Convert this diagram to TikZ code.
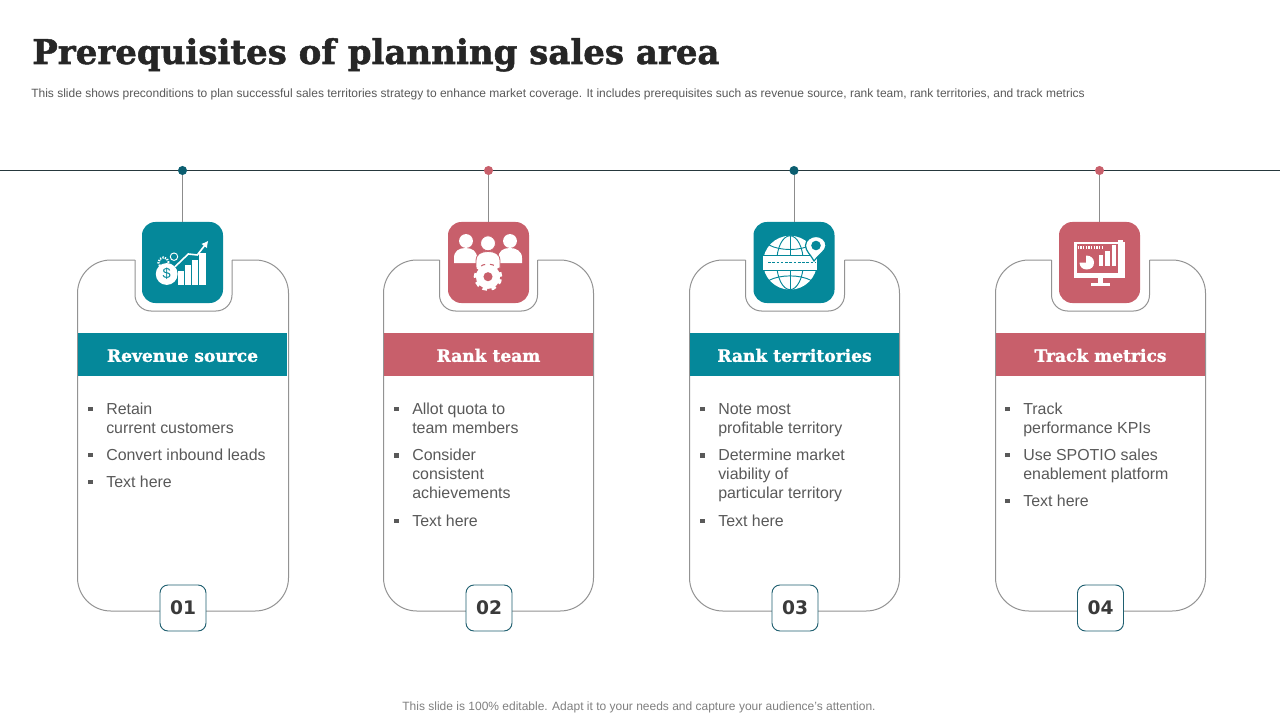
\documentclass[tikz,border=0pt]{standalone}
\usepackage{fontspec}
\usetikzlibrary{arrows.meta}
\setmainfont{Liberation Sans}
\newfontfamily\slabfont{DejaVu Serif}[BoldFont={DejaVu Serif Bold},BoldFeatures={FakeBold=1.5}]
\newfontfamily\numfont{DejaVu Sans}[BoldFont={DejaVu Sans Bold}]
\newcommand{\bul}{\raisebox{2.6pt}{\rule{3.2pt}{3.2pt}}}
\tikzset{
	cardline/.style={draw=gray!85,line width=0.75pt},
	iconbox/.style={minimum size=60.75pt,inner sep=0pt,rounded corners=10pt},
	bandbox/.style={minimum width=157pt,minimum height=32pt,inner sep=0pt,text height=11pt,text depth=0pt,text=white,font=\slabfont\bfseries\fontsize{12.8}{15}\selectfont},
	numbox/.style={draw=numedge,fill=white,line width=0.7pt,minimum size=34.5pt,inner sep=0pt,rounded corners=6pt,text=numtext,font=\numfont\bfseries\fontsize{14}{18}\selectfont},
	dotnode/.style={circle,minimum size=6.8pt,inner sep=0pt},
	dropline/.style={draw=gray!90,line width=0.75pt},
	bodytext/.style={anchor=north west,inner sep=0pt,text=bodygray,font=\fontsize{11.95}{14.25}\selectfont}
}
\begin{document}
\begin{tikzpicture}[x=0.75pt,y=-0.75pt]
	\definecolor{tealc}{HTML}{05889A}
	\definecolor{redc}{HTML}{C85F6B}
	\definecolor{darkteal}{HTML}{0B5E70}
	\definecolor{numedge}{HTML}{1F5F70}
	\definecolor{numtext}{HTML}{3A3A3A}
	\definecolor{bodygray}{HTML}{595959}
	\definecolor{ruleslate}{HTML}{26383D}
	\useasboundingbox (0,0) rectangle (1280,720);
	\fill[white] (0,0) rectangle (1280,720);

	\node[anchor=base west,inner sep=0pt,text=black!85,font=\slabfont\bfseries\fontsize{25.5}{30}\selectfont] (title) at (32,64) {Prerequisites of planning sales area};
	\node[anchor=base west,inner sep=0pt,text=bodygray,font=\fontsize{9}{11}\selectfont] (subtitle) at (31,98) {This slide shows preconditions to plan successful sales territories strategy to enhance market coverage. It includes prerequisites such as revenue source, rank team, rank territories, and track metrics};
	\node[anchor=base,inner sep=0pt,text=gray,font=\fontsize{9}{11}\selectfont] (footer) at (639,710) {This slide is 100\% editable. Adapt it to your needs and capture your audience's attention.};

	\coordinate (lineL) at (0,170.5);
	\coordinate (lineR) at (1280,170.5);
	\draw[ruleslate,line width=0.75pt] (lineL) -- (lineR);

	\draw[cardline,rounded corners=12pt] (135,260) -- (135,311) -- (232,311) -- (232,260);
	\draw[cardline,rounded corners=25pt] (232,260) -- (288.5,260) -- (288.5,611) -- (77.5,611) -- (77.5,260) -- (135,260);
	\draw[cardline,rounded corners=12pt] (439.5,260) -- (439.5,311) -- (537.5,311) -- (537.5,260);
	\draw[cardline,rounded corners=25pt] (537.5,260) -- (593.5,260) -- (593.5,611) -- (383.5,611) -- (383.5,260) -- (439.5,260);
	\draw[cardline,rounded corners=12pt] (745.5,260) -- (745.5,311) -- (844.5,311) -- (844.5,260);
	\draw[cardline,rounded corners=25pt] (844.5,260) -- (899.5,260) -- (899.5,611) -- (689.5,611) -- (689.5,260) -- (745.5,260);
	\draw[cardline,rounded corners=12pt] (1051.5,260) -- (1051.5,311) -- (1149.5,311) -- (1149.5,260);
	\draw[cardline,rounded corners=25pt] (1149.5,260) -- (1205.5,260) -- (1205.5,611) -- (995.5,611) -- (995.5,260) -- (1051.5,260);

	\node[iconbox,fill=tealc] (icon1) at (182.5,262.5) {};
	\node[iconbox,fill=redc] (icon2) at (488.5,262.5) {};
	\node[iconbox,fill=tealc] (icon3) at (794,262.5) {};
	\node[iconbox,fill=redc] (icon4) at (1099.5,262.5) {};

	\node[dotnode,fill=darkteal] (dot1) at (182.5,170.5) {};
	\node[dotnode,fill=redc] (dot2) at (488.5,170.5) {};
	\node[dotnode,fill=darkteal] (dot3) at (794,170.5) {};
	\node[dotnode,fill=redc] (dot4) at (1099.5,170.5) {};
	\draw[dropline] (dot1) -- (icon1);
	\draw[dropline] (dot2) -- (icon2);
	\draw[dropline] (dot3) -- (icon3);
	\draw[dropline] (dot4) -- (icon4);

	\node[bandbox,fill=tealc] (band1) at (182.5,354.5) {Revenue source};
	\node[bandbox,fill=redc] (band2) at (488.5,354.5) {Rank team};
	\node[bandbox,fill=tealc] (band3) at (794.5,354.5) {Rank territories};
	\node[bandbox,fill=redc] (band4) at (1100.5,354.5) {Track metrics};

	\node[bodytext] (text1) at (88,401) {\begin{tabular}{@{}p{13.5pt}@{}l@{}} \bul&Retain\\&current customers\\[6pt] \bul&Convert inbound leads\\[6pt] \bul&Text here \end{tabular}};
	\node[bodytext] (text2) at (394,401) {\begin{tabular}{@{}p{13.5pt}@{}l@{}} \bul&Allot quota to\\&team members\\[6.3pt] \bul&Consider\\&consistent\\&achievements\\[6.3pt] \bul&Text here \end{tabular}};
	\node[bodytext] (text3) at (700,401) {\begin{tabular}{@{}p{13.5pt}@{}l@{}} \bul&Note most\\&profitable territory\\[6.3pt] \bul&Determine market\\&viability of\\&particular territory\\[6.3pt] \bul&Text here \end{tabular}};
	\node[bodytext] (text4) at (1005,401) {\begin{tabular}{@{}p{13.5pt}@{}l@{}} \bul&Track\\&performance KPIs\\[6pt] \bul&Use SPOTIO sales\\&enablement platform\\[6pt] \bul&Text here \end{tabular}};

	\node[numbox] (num1) at (183,608) {01};
	\node[numbox] (num2) at (489,608) {02};
	\node[numbox] (num3) at (795,608) {03};
	\node[numbox] (num4) at (1100.5,608) {04};

	\fill[white] (166.7,274) circle (8.2pt);
	\node[inner sep=0pt,text=tealc,font=\fontsize{11}{12}\selectfont] (dollar) at (166.7,274) {\$};
	\fill[white] (177.7,270.7) rectangle (184.3,284.7);
	\fill[white] (185,265) rectangle (191,284.7);
	\fill[white] (191.7,260) rectangle (198.3,284.7);
	\fill[white] (199,253.3) rectangle (206,284.7);
	\draw[white,line width=1.2pt,-{Latex[length=5pt,width=5.5pt]}] (175,266.7) -- (188.3,254) -- (197.3,255) -- (208.3,240.7);
	\draw[white,line width=0.7pt] (174,256.7) circle (2.8pt);
	\draw[white,line width=1.6pt,dash pattern=on 1pt off 0.9pt] (163.5,262.5) circle (3.8pt);

	\fill[white] (466,241) circle (5.2pt);
	\fill[white] (510,241) circle (5.2pt);
	\fill[white] (454,263) -- (454,258) .. controls (454,251) and (459,248) .. (465.5,248) .. controls (472,248) and (477,251) .. (477,258) -- (477,263) -- cycle;
	\fill[white] (498.5,263) -- (498.5,258) .. controls (498.5,251) and (503,248) .. (510,248) .. controls (516,248) and (522,251) .. (522,258) -- (522,263) -- cycle;
	\filldraw[fill=white,draw=redc,line width=0.6pt] (488,243.3) circle (5.6pt);
	\filldraw[fill=white,draw=redc,line width=0.6pt] (476,268) -- (476,261) .. controls (476,254) and (481,251.5) .. (488,251.5) .. controls (495,251.5) and (500,254) .. (500,261) -- (500,268) -- cycle;
	\filldraw[fill=white,draw=redc,line width=0.8pt] (488,276.7) circle (9.6pt);
	\draw[white,line width=2.6pt,dash pattern=on 3.4pt off 3.27pt] (488,276.7) circle (9.4pt);
	\fill[redc] (488,276.7) circle (3.4pt);

	\fill[white] (790,262.7) circle (20.2pt);
	\draw[tealc,line width=0.7pt] (790,235.7) -- (790,289.7);
	\draw[tealc,line width=0.7pt] (790,262.7) ellipse (10pt and 20.2pt);
	\draw[tealc,line width=0.7pt] (769,245) .. controls (780,251) and (800,251) .. (811,245);
	\draw[tealc,line width=0.7pt] (769,280.4) .. controls (780,274.4) and (800,274.4) .. (811,280.4);
	\fill[white] (763,255.5) rectangle (817,270);
	\draw[tealc,line width=0.7pt] (763,255.5) -- (817,255.5);
	\draw[tealc,line width=0.7pt] (763,270) -- (817,270);
	\draw[tealc,line width=0.7pt,dash pattern=on 2pt off 1.2pt] (768,262.7) -- (815,262.7);
	\filldraw[fill=white,draw=tealc,line width=0.9pt] (814,261) .. controls (811,255) and (805.5,251) .. (805.5,245.5) .. controls (805.5,240) and (811,236.5) .. (816,236.5) .. controls (821,236.5) and (826,240) .. (826,245.5) .. controls (826,251) and (818,255) .. (814,261) -- cycle;
	\fill[tealc] (816,245.5) circle (3.6pt);

	\fill[white] (1074,241.7) rectangle (1125,278.3);
	\fill[redc] (1076.7,244) rectangle (1123,273);
	\fill[white] (1097.5,278) rectangle (1102.5,283);
	\fill[white] (1091,283) rectangle (1110,285.5);
	\draw[white,line width=2.4pt,dash pattern=on 1.2pt off 0.8pt] (1077.5,247.5) -- (1102,247.5);
	\fill[white] (1086,262.5) -- (1086,255.5) .. controls (1091,255.5) and (1094,258.5) .. (1094,262.5) .. controls (1094,267) and (1091,269.5) .. (1086.5,269.5) .. controls (1082,269.5) and (1079.5,266) .. (1079.5,262.5) -- cycle;
	\fill[white] (1098.5,255) rectangle (1103,266);
	\fill[white] (1105,250.7) rectangle (1109.5,266);
	\fill[white] (1112,245) rectangle (1116,266);
	\fill[white] (1118,240) rectangle (1122.5,273);
\end{tikzpicture}
\end{document}
